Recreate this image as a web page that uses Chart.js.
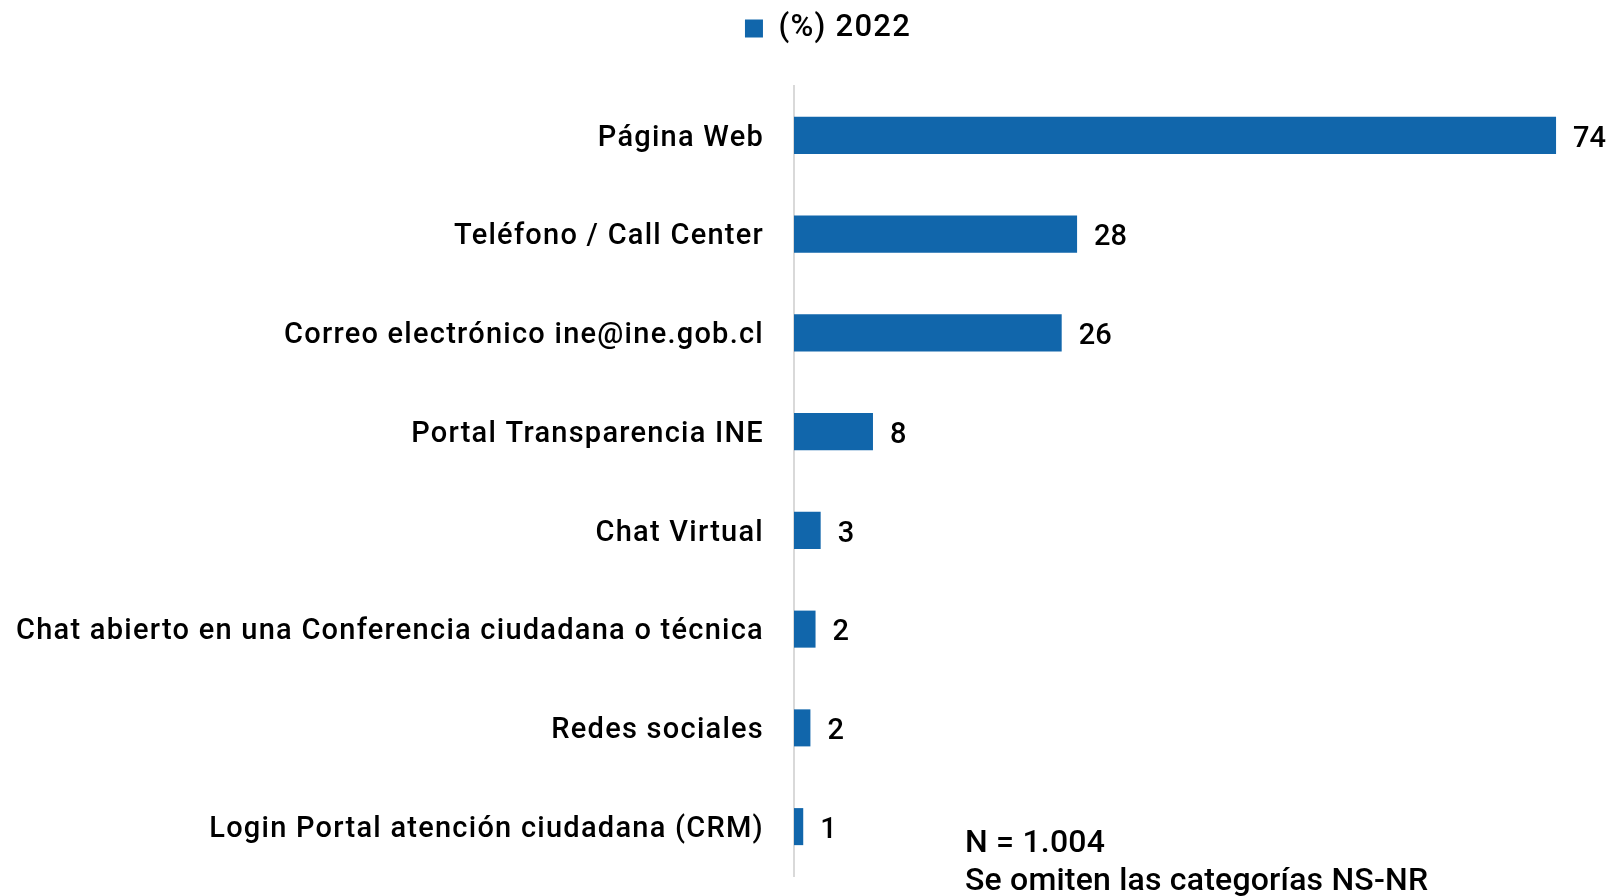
<!DOCTYPE html>
<html>
<head>
<meta charset="utf-8">
<script src="https://cdn.jsdelivr.net/npm/chart.js@4/dist/chart.umd.min.js"></script>
<style>
  html, body { margin: 0; padding: 0; background: #ffffff; }
  #wrap { width: 1612px; height: 896px; position: relative; }
</style>
</head>
<body>
<div id="wrap"><canvas id="c" width="1612" height="896"></canvas></div>
<script>
const categories = [
  "Página Web",
  "Teléfono / Call Center",
  "Correo electrónico ine@ine.gob.cl",
  "Portal Transparencia INE",
  "Chat Virtual",
  "Chat abierto en una Conferencia ciudadana o técnica",
  "Redes sociales",
  "Login Portal atención ciudadana (CRM)"
];
const values2022 = [74.3, 27.6, 26.1, 7.7, 2.6, 2.1, 1.6, 0.9];
const valueLabels = ["74", "28", "26", "8", "3", "2", "2", "1"];
const seriesName = "(%) 2022";
const notes = ["N = 1.004", "Se omiten las categorías NS-NR"];

const FONT = "Roboto, 'Noto Sans', sans-serif";
const BLUE = "#1166AB";

const spacingPlugin = {
  id: 'spacing',
  afterLayout(chart) {
    // shift the legend so it sits over the centre of the plot
    if (chart.legend) { chart.legend.left += 22; chart.legend.right += 22; }
  },
  beforeDraw(chart) {
    if ('letterSpacing' in chart.ctx) chart.ctx.letterSpacing = '1.25px';
  }
};

const valueLabelPlugin = {
  id: 'valueLabels',
  afterDatasetsDraw(chart) {
    const ctx = chart.ctx;
    const meta = chart.getDatasetMeta(0);
    ctx.save();
    if ('letterSpacing' in ctx) ctx.letterSpacing = '0px';
    ctx.font = "500 29px " + FONT;
    ctx.fillStyle = "#000000";
    ctx.textAlign = "left";
    ctx.textBaseline = "middle";
    meta.data.forEach((bar, i) => {
      ctx.fillText(valueLabels[i], bar.x + 17, bar.y + 4);
    });
    ctx.restore();
  }
};

const notePlugin = {
  id: 'notes',
  afterDraw(chart) {
    const ctx = chart.ctx;
    const a = chart.chartArea;
    ctx.save();
    if ('letterSpacing' in ctx) ctx.letterSpacing = '0.2px';
    ctx.font = "500 32px " + FONT;
    ctx.fillStyle = "#000000";
    ctx.textAlign = "left";
    ctx.textBaseline = "alphabetic";
    ctx.fillText(notes[0], a.left + 171, 852);
    ctx.fillText(notes[1], a.left + 171, 890);
    ctx.restore();
  }
};

new Chart(document.getElementById('c'), {
  type: 'bar',
  data: {
    labels: categories,
    datasets: [{
      label: seriesName,
      data: values2022,
      backgroundColor: BLUE,
      borderWidth: 0,
      barPercentage: 0.375,
      categoryPercentage: 1.0
    }]
  },
  options: {
    indexAxis: 'y',
    responsive: false,
    animation: false,
    devicePixelRatio: 1,
    layout: { padding: { left: 8, right: 18, top: 0, bottom: 20 } },
    plugins: {
      legend: {
        display: true,
        position: 'top',
        labels: {
          boxWidth: 18,
          boxHeight: 18,
          padding: 13,
          color: '#000000',
          font: { family: FONT, size: 31, weight: '500' }
        }
      },
      title: {
        display: true,
        text: '',
        position: 'top',
        weight: 500,
        font: { size: 1, lineHeight: 1 },
        padding: { top: 31, bottom: 0 }
      },
      tooltip: { enabled: false }
    },
    scales: {
      x: {
        min: 0,
        max: 78,
        display: false,
        grid: { display: false }
      },
      y: {
        afterFit(scale) {
          scale.width = 786;
          scale.paddingTop = 0;
          scale.paddingBottom = 0;
        },
        grid: { display: false, drawTicks: false },
        border: { display: true, color: '#d9d9d9', width: 2 },
        ticks: {
          padding: 30,
          labelOffset: 3,
          color: '#000000',
          font: { family: FONT, size: 29, weight: '500' }
        }
      }
    }
  },
  plugins: [spacingPlugin, valueLabelPlugin, notePlugin]
});
</script>
</body>
</html>
